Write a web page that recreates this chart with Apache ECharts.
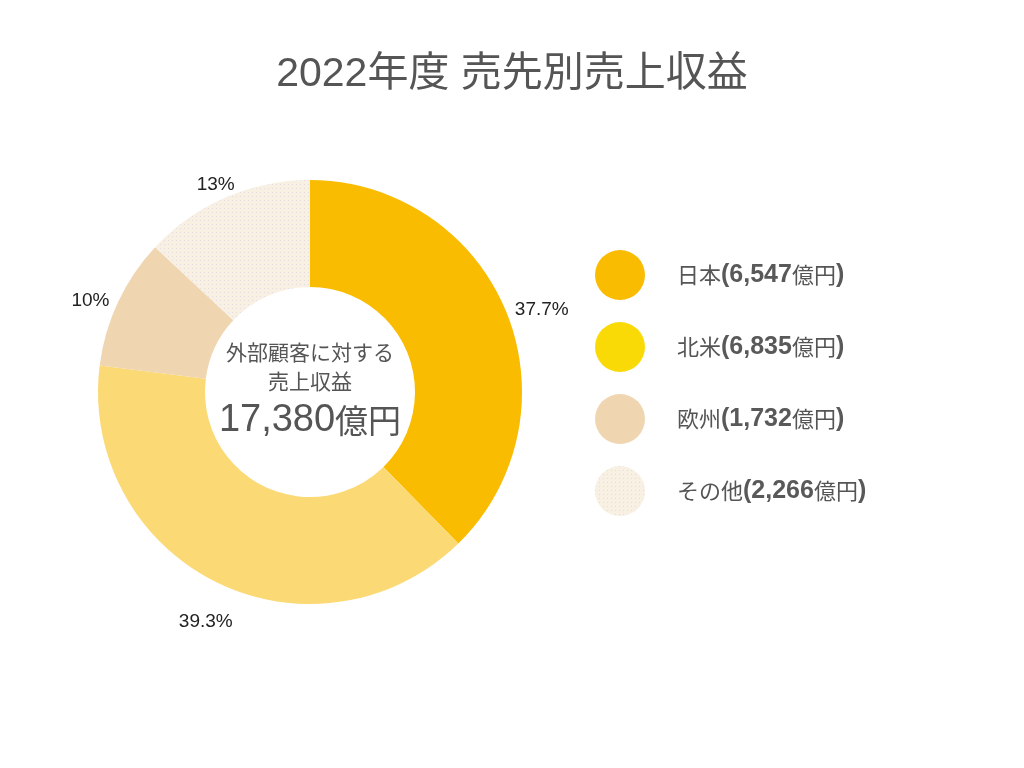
<!DOCTYPE html>
<html><head><meta charset="utf-8">
<script src="https://cdn.jsdelivr.net/npm/echarts@6/dist/echarts.min.js"></script>
<style>html,body{margin:0;padding:0;background:#fff}#c{width:1024px;height:768px}</style>
</head><body><div id="c"></div>
<script>
const titleText = '2022年度 売先別売上収益';
const regions = ['日本', '北米', '欧州', 'その他'];
const values = [6547, 6835, 1732, 2266];
const percentLabels = ['37.7%', '39.3%', '10%', '13%'];
const sliceColors = ['#F9BC00', '#FBD975', '#EFD6B0', '#F8F0E3'];
const legendColors = ['#F9BC00', '#F9DA06', '#EFD6B0', '#F8F0E3'];
const centerLines = ['外部顧客に対する', '売上収益'];
const totalNumber = '17,380';
const unit = '億円';

const fmt = n => n.toLocaleString('en-US');
const legendNames = regions.map((r, i) => r + '(' + fmt(values[i]) + unit + ')');

const CJK = '"Noto Sans CJK JP", sans-serif';
const LAT = '"Liberation Sans", "Noto Sans CJK JP", sans-serif';
// label line lengths (hidden lines) used only to place the outside labels
const labelLens = [[6, -2], [45, -42], [4, 0], [13.5, -19.5]];

const chart = echarts.init(document.getElementById('c'));
const dotDecal = { symbol: 'rect', symbolSize: 1, dashArrayX: [1, 3], dashArrayY: [1, 3], color: 'rgba(200,190,225,0.4)' };
chart.setOption({
  backgroundColor: '#fff',
  animation: false,
  title: {
    text: titleText, left: 'center', top: 49,
    textStyle: { fontFamily: LAT, fontSize: 41, fontWeight: 'normal', color: '#555' }
  },
  graphic: [{
    type: 'text', silent: true, z: 100,
    x: 310, y: 337.5,
    style: {
      text: '{s|' + centerLines[0] + '}\n{s|' + centerLines[1] + '}\n{d|' + totalNumber + '}{k|' + unit + '}',
      align: 'center', verticalAlign: 'top', fill: '#555',
      rich: {
        s: { fontFamily: CJK, fontSize: 21, fill: '#555', color: '#555', lineHeight: 29, align: 'center' },
        d: { fontFamily: LAT, fontSize: 38, fill: '#555', color: '#555', lineHeight: 50 },
        k: { fontFamily: CJK, fontSize: 33, fill: '#555', color: '#555', lineHeight: 50 }
      }
    }
  }],
  legend: {
    orient: 'vertical', left: 590, top: 245,
    icon: 'circle', itemWidth: 50, itemHeight: 50, itemGap: 22,
    formatter: name => {
      const i = legendNames.indexOf(name);
      return '{c|' + regions[i] + '}{n|(' + fmt(values[i]) + '}{c|' + unit + '}{n|)}';
    },
    textStyle: {
      color: '#555', padding: [0, 0, 0, 27],
      rich: {
        c: { fontFamily: CJK, fontSize: 22, color: '#555' },
        n: { fontFamily: LAT, fontSize: 25, fontWeight: 'bold', color: '#595959' }
      }
    },
    data: legendNames.map((n, i) => ({ name: n, itemStyle: { color: legendColors[i] } }))
  },
  series: [{
    type: 'pie',
    center: [310, 392],
    radius: [105, 212],
    startAngle: 90,
    clockwise: true,
    avoidLabelOverlap: false,
    label: {
      show: true, position: 'outside',
      fontFamily: LAT, fontSize: 19, color: '#222',
      formatter: p => percentLabels[p.dataIndex]
    },
    labelLine: { show: false },
    emphasis: { disabled: true },
    data: values.map((v, i) => {
      const item = {
        name: legendNames[i], value: v,
        itemStyle: { color: sliceColors[i] },
        labelLine: { show: false, length: labelLens[i][0], length2: labelLens[i][1] }
      };
      if (i === 3) item.itemStyle.decal = dotDecal;
      return item;
    })
  }]
});
</script></body></html>
